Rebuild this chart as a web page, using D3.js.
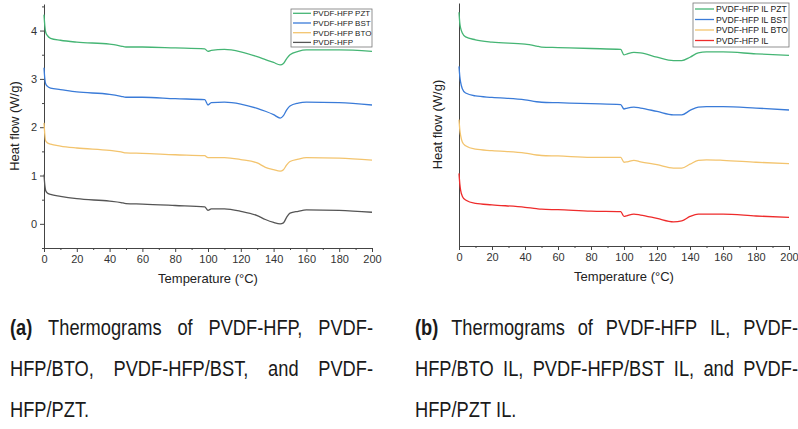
<!DOCTYPE html>
<html>
<head>
<meta charset="utf-8">
<script src="https://cdn.jsdelivr.net/npm/d3@7"></script>
<style>
  body { margin: 0; background: #fff; width: 798px; height: 429px; overflow: hidden; }
  .axis text { font-family: "Liberation Sans", Arial, sans-serif; font-size: 11px; fill: #333; }
  .axis path, .axis line { stroke: #444; }
  .cap text { font-family: "Liberation Sans", Arial, sans-serif; font-size: 22px; fill: #1a1a1a; }
</style>
</head>
<body>
<svg width="798" height="429"></svg>
<script>
// temperature grids (°C)
tempA = [0, 0.5, 1, 2, 4, 10, 20, 40, 47, 50, 60, 80, 98, 100, 102, 110, 120, 130, 135, 140, 144, 146, 148, 150, 155, 160, 180, 200];
tempB = [0, 0.5, 1, 2, 4, 10, 20, 40, 47, 50, 60, 80, 98, 100, 102, 106, 110, 120, 130, 135, 140, 145, 150, 160, 180, 200];

// (a) heat flow, W/g
pztA = [4.33, 4.10, 3.97, 3.90, 3.84, 3.80, 3.76, 3.72, 3.68, 3.66, 3.66, 3.64, 3.62, 3.57, 3.59, 3.61, 3.56, 3.46, 3.40, 3.34, 3.29, 3.32, 3.42, 3.50, 3.57, 3.60, 3.60, 3.57];
bstA = [3.23, 3.00, 2.90, 2.85, 2.81, 2.78, 2.73, 2.68, 2.64, 2.62, 2.62, 2.59, 2.57, 2.46, 2.51, 2.52, 2.48, 2.39, 2.33, 2.26, 2.19, 2.24, 2.36, 2.44, 2.50, 2.52, 2.51, 2.46];
btoA = [2.09, 1.85, 1.72, 1.68, 1.65, 1.61, 1.57, 1.52, 1.49, 1.47, 1.46, 1.43, 1.41, 1.37, 1.37, 1.37, 1.33, 1.26, 1.17, 1.12, 1.09, 1.12, 1.22, 1.29, 1.34, 1.37, 1.36, 1.32];
hfpA = [1.02, 0.80, 0.69, 0.64, 0.61, 0.57, 0.52, 0.47, 0.44, 0.42, 0.41, 0.38, 0.35, 0.28, 0.31, 0.31, 0.26, 0.17, 0.09, 0.03, 0.00, 0.02, 0.14, 0.22, 0.26, 0.29, 0.28, 0.24];

// (b) heat flow, arbitrary offset
pztB = [4.43, 4.20, 4.10, 4.00, 3.92, 3.86, 3.81, 3.77, 3.73, 3.71, 3.70, 3.68, 3.66, 3.55, 3.57, 3.60, 3.59, 3.50, 3.43, 3.43, 3.50, 3.59, 3.61, 3.61, 3.57, 3.54];
bstB = [3.31, 3.10, 2.98, 2.85, 2.76, 2.70, 2.67, 2.62, 2.58, 2.57, 2.56, 2.54, 2.52, 2.43, 2.45, 2.47, 2.45, 2.38, 2.31, 2.31, 2.40, 2.47, 2.48, 2.48, 2.45, 2.41];
btoB = [2.21, 2.00, 1.88, 1.75, 1.67, 1.60, 1.57, 1.52, 1.48, 1.47, 1.46, 1.43, 1.43, 1.33, 1.34, 1.37, 1.34, 1.28, 1.21, 1.21, 1.29, 1.37, 1.38, 1.37, 1.33, 1.30];
ilB  = [1.10, 0.88, 0.75, 0.63, 0.55, 0.48, 0.45, 0.40, 0.37, 0.36, 0.35, 0.32, 0.31, 0.21, 0.23, 0.26, 0.24, 0.17, 0.10, 0.12, 0.21, 0.26, 0.26, 0.26, 0.22, 0.19];

namesA = ["PVDF-HFP PZT", "PVDF-HFP BST", "PVDF-HFP BTO", "PVDF-HFP"];
namesB = ["PVDF-HFP IL PZT", "PVDF-HFP IL BST", "PVDF-HFP IL BTO", "PVDF-HFP IL"];
colorsA = ["#45b574", "#3a7bd8", "#f3c46e", "#555555"];
colorsB = ["#45b574", "#3a7bd8", "#f3c46e", "#ee2b2b"];

xTicks = d3.range(0, 201, 20);
xMinor = d3.range(10, 200, 20);
yTicksA = [0, 1, 2, 3, 4];
yMinorA = [-0.5, 0.5, 1.5, 2.5, 3.5, 4.5];

// caption lines: [bold label, text, justified?]
capA = [["(a)", "Thermograms of PVDF-HFP, PVDF-", true], ["", "HFP/BTO, PVDF-HFP/BST, and PVDF-", true], ["", "HFP/PZT.", false]];
capB = [["(b)", "Thermograms of PVDF-HFP IL, PVDF-", true], ["", "HFP/BTO IL, PVDF-HFP/BST IL, and PVDF-", true], ["", "HFP/PZT IL.", false]];

svg = d3.select("svg");
font = "Liberation Sans, Arial, sans-serif";

function panel(opt) {
    x = d3.scaleLinear().domain([0, 200]).range([opt.x0, opt.x1]);
    y = d3.scaleLinear().domain(opt.ydom).range([opt.y1, opt.y0]);
    g = svg.append("g");

    // x axis: majors with labels, minors without
    g.append("g").attr("class", "axis")
      .attr("transform", "translate(0," + opt.y1 + ")")
      .call(d3.axisBottom(x).tickValues(xTicks).tickSize(4).tickPadding(3).tickSizeOuter(0));
    g.append("g").attr("class", "axis")
      .attr("transform", "translate(0," + opt.y1 + ")")
      .call(d3.axisBottom(x).tickValues(xMinor).tickSize(2).tickFormat("").tickSizeOuter(0))
      .select("path").remove();

    // y axis
    yax = g.append("g").attr("class", "axis")
      .attr("transform", "translate(" + opt.x0 + ",0)");
    if (opt.yTicks) {
        yax.call(d3.axisLeft(y).tickValues(opt.yTicks).tickFormat(d3.format("d"))
            .tickSize(4).tickPadding(3).tickSizeOuter(0));
        g.append("g").attr("class", "axis")
          .attr("transform", "translate(" + opt.x0 + ",0)")
          .call(d3.axisLeft(y).tickValues(yMinorA).tickSize(2).tickFormat("").tickSizeOuter(0))
          .select("path").remove();
    } else {
        yax.call(d3.axisLeft(y).tickValues([]).tickSizeOuter(0));
    }

    line = d3.line().x(function(d){ return x(d[0]); }).y(function(d){ return y(d[1]); })
        .curve(d3.curveMonotoneX);

    opt.series.forEach(function(s, i) {
        g.append("path")
          .datum(opt.temp.map(function(t, k){ return [t, s[k]]; }))
          .attr("fill", "none")
          .attr("stroke", opt.colors[i])
          .attr("stroke-width", 1.3)
          .attr("d", line);
    });

    // axis titles
    g.append("text")
      .attr("x", (opt.x0 + opt.x1) / 2).attr("y", opt.y1 + 35)
      .attr("text-anchor", "middle")
      .style("font-family", font).style("font-size", "13px").attr("fill", "#222")
      .text("Temperature (°C)");
    g.append("text")
      .attr("transform", "translate(" + opt.ylabX + "," + ((opt.y0 + opt.y1) / 2) + ") rotate(-90)")
      .attr("text-anchor", "middle")
      .style("font-family", font).style("font-size", "13px").attr("fill", "#222")
      .text("Heat flow (W/g)");

    // legend
    L = opt.leg;
    lg = g.append("g");
    lg.append("rect")
      .attr("x", L.box[0]).attr("y", L.box[1]).attr("width", L.box[2]).attr("height", L.box[3])
      .attr("fill", "#fff").attr("stroke", "#777").attr("stroke-width", 0.8);
    opt.names.forEach(function(n, i) {
        yy = L.row0 + i * L.step;
        lg.append("line")
          .attr("x1", L.box[0] + 2).attr("x2", L.box[0] + 2 + L.sample)
          .attr("y1", yy).attr("y2", yy)
          .attr("stroke", opt.colors[i]).attr("stroke-width", 1.3);
        lg.append("text")
          .attr("x", L.box[0] + 4 + L.sample).attr("y", yy + L.fs * 0.36)
          .style("font-family", font).style("font-size", L.fs + "px").attr("fill", "#222")
          .text(n);
    });
}

panel({ x0: 44, x1: 372, y0: 4, y1: 248, ydom: [-0.5, 4.55], yTicks: yTicksA,
        temp: tempA, series: [pztA, bstA, btoA, hfpA], names: namesA, colors: colorsA,
        ylabX: 19, leg: { box: [291, 9, 81, 38], row0: 13.3, step: 9.7, sample: 18, fs: 8 } });
panel({ x0: 459, x1: 789, y0: 3, y1: 246, ydom: [-0.4, 4.62], yTicks: null,
        temp: tempB, series: [pztB, bstB, btoB, ilB], names: namesB, colors: colorsB,
        ylabX: 442, leg: { box: [693, 3, 96, 44], row0: 9, step: 10.5, sample: 19, fs: 8.6 } });

// captions: narrow face made by squeezing Liberation Sans, words spread for justify
sx = 0.83;
function caption(lines, left, width) {
    cg = svg.append("g").attr("class", "cap");
    lines.forEach(function(l, li) {
        row = cg.append("g")
          .attr("transform", "translate(" + left + "," + (335 + li * 41) + ") scale(" + sx + ",1)");
        words = (l[0] ? [l[0]] : []).concat(l[1].split(" "));
        nodes = words.map(function(w, k) {
            return row.append("text").text(w)
              .style("font-weight", (l[0] && k === 0) ? "bold" : "normal");
        });
        ws = nodes.map(function(n){ return n.node().getComputedTextLength(); });
        total = d3.sum(ws);
        gap = l[2] ? (width / sx - total) / (words.length - 1) : 6.1;
        gap = Math.max(gap, 6.1);
        cx = 0;
        nodes.forEach(function(n, k) { n.attr("x", cx); cx += ws[k] + gap; });
    });
}
caption(capA, 10, 363);
caption(capB, 415, 383);
</script>
</body>
</html>
